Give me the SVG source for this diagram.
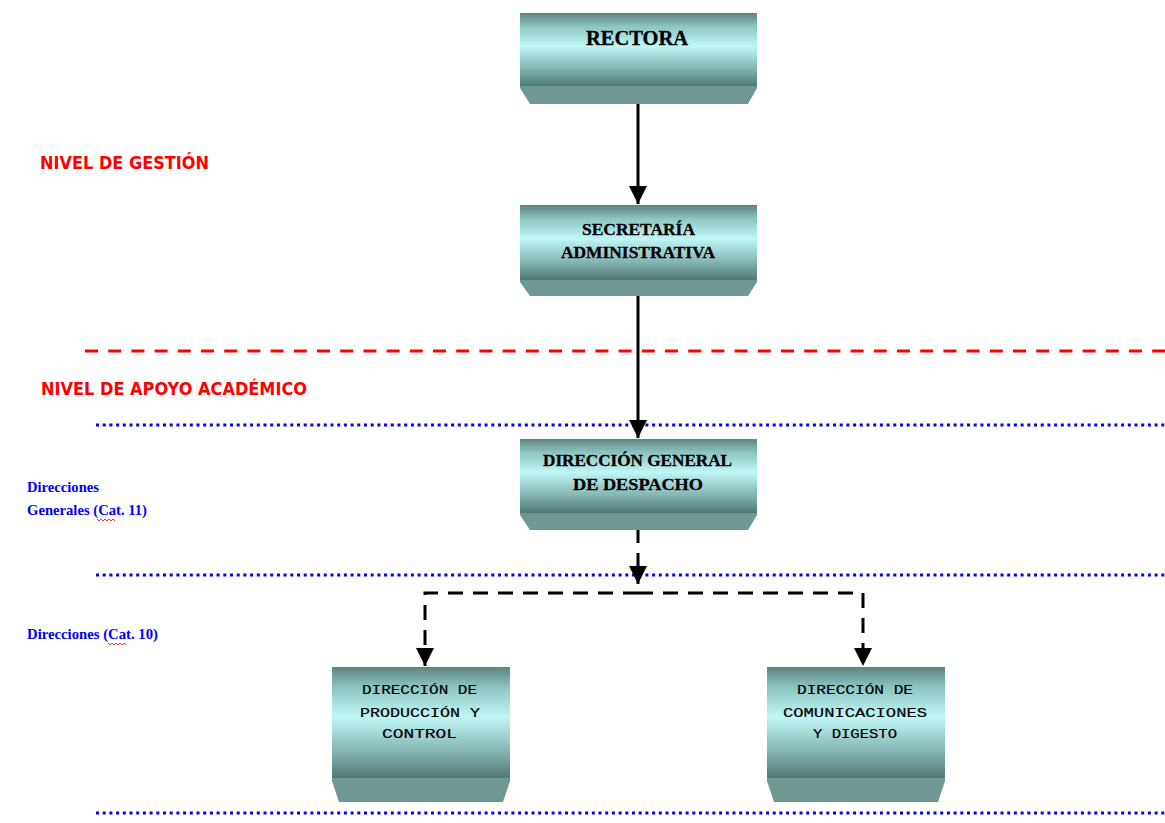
<svg xmlns="http://www.w3.org/2000/svg" width="1165" height="823" viewBox="0 0 1165 823">
  <style>
    .lvl { font-family: "DejaVu Sans", sans-serif; font-weight: bold; font-size: 17px; fill: #ff0000; }
    .cat { font-family: "Liberation Serif", serif; font-weight: bold; font-size: 15px; fill: #0000ff; }
    .ttl { font-family: "Liberation Serif", serif; font-weight: bold; fill: #000; stroke: #000; stroke-width: 0.3; }
    .mono { font-family: "Liberation Mono", monospace; font-size: 13.5px; fill: #000; stroke: #000; stroke-width: 0.2; }
    .bevel { fill: #6f9893; }
    .sep-red { stroke: #ff0000; stroke-width: 3; stroke-dasharray: 13 10.2; fill: none; }
    .sep-blue { stroke: #0000ff; stroke-width: 3; stroke-dasharray: 3 3.7; fill: none; }
    .solid { stroke: #000; stroke-width: 3; fill: none; }
    .dash { stroke: #000; stroke-width: 3; fill: none; stroke-dasharray: 15 10; }
    .squiggle { stroke: #ff0000; stroke-width: 0.8; fill: none; }
  </style>
  <defs>
    <linearGradient id="cyl" x1="0" y1="0" x2="0" y2="1">
      <stop offset="0" stop-color="#5b8480"/>
      <stop offset="0.18" stop-color="#8cc4c0"/>
      <stop offset="0.45" stop-color="#bff7f5"/>
      <stop offset="0.75" stop-color="#86b8b4"/>
      <stop offset="1" stop-color="#4f7874"/>
    </linearGradient>
    <marker id="head" viewBox="0 0 10 10" refX="10" refY="5" markerWidth="6" markerHeight="7.3" markerUnits="strokeWidth" orient="auto">
      <path d="M0,0 L10,5 L0,10 Z" fill="#000"/>
    </marker>
  </defs>

  <rect width="1165" height="823" fill="#ffffff"/>

  <!-- level separators -->
  <g id="separators">
    <line class="sep-red" x1="85" y1="351" x2="1165" y2="351"/>
    <line class="sep-blue" x1="96" y1="425" x2="1165" y2="425"/>
    <line class="sep-blue" x1="96" y1="575" x2="1165" y2="575"/>
    <line class="sep-blue" x1="96" y1="813" x2="1165" y2="813"/>
  </g>

  <!-- level labels -->
  <g id="labels">
    <text class="lvl" x="40" y="169" textLength="169" lengthAdjust="spacingAndGlyphs">NIVEL DE GESTIÓN</text>
    <text class="lvl" x="41" y="395" textLength="266" lengthAdjust="spacingAndGlyphs">NIVEL DE APOYO ACADÉMICO</text>
    <text class="cat" x="27" y="492" textLength="72" lengthAdjust="spacingAndGlyphs">Direcciones</text>
    <text class="cat" x="27" y="515" textLength="120" lengthAdjust="spacingAndGlyphs">Generales (Cat. 11)</text>
    <path class="squiggle" d="M97,519 l2,2 l2,-2 l2,2 l2,-2 l2,2 l2,-2 l2,2 l2,-2 l2,2"/>
    <text class="cat" x="27" y="639" textLength="131" lengthAdjust="spacingAndGlyphs">Direcciones (Cat. 10)</text>
    <path class="squiggle" d="M108,643 l2,2 l2,-2 l2,2 l2,-2 l2,2 l2,-2 l2,2 l2,-2 l2,2"/>
  </g>

  <!-- connectors -->
  <g id="connectors">
    <line class="solid" x1="638" y1="104" x2="638" y2="204" marker-end="url(#head)"/>
    <line class="solid" x1="638" y1="296" x2="638" y2="438" marker-end="url(#head)"/>
    <line class="dash" x1="638" y1="528" x2="638" y2="584" marker-end="url(#head)"/>
    <path class="dash" d="M638,593 H425 V666" marker-end="url(#head)"/>
    <path class="dash" d="M638,593 H863 V666" marker-end="url(#head)"/>
  </g>

  <!-- nodes -->
  <g id="rectora">
    <path class="bevel" d="M520,85 H757 V88 L748,104 H530 L520,88 Z"/>
    <rect x="520" y="13" width="237" height="73" fill="url(#cyl)"/>
    <text class="ttl" x="586" y="45" font-size="20" textLength="102" lengthAdjust="spacingAndGlyphs">RECTORA</text>
  </g>

  <g id="secretaria">
    <path class="bevel" d="M520,279 H757 V282 L748,296 H530 L520,282 Z"/>
    <rect x="520" y="205" width="237" height="75" fill="url(#cyl)"/>
    <text class="ttl" x="582" y="235" font-size="17" textLength="113" lengthAdjust="spacingAndGlyphs">SECRETARÍA</text>
    <text class="ttl" x="561" y="258" font-size="17" textLength="154" lengthAdjust="spacingAndGlyphs">ADMINISTRATIVA</text>
  </g>

  <g id="direccion-general">
    <path class="bevel" d="M520,512 H757 V515 L748,530 H530 L520,515 Z"/>
    <rect x="520" y="439" width="237" height="74" fill="url(#cyl)"/>
    <text class="ttl" x="543" y="466" font-size="16.5" textLength="189" lengthAdjust="spacingAndGlyphs">DIRECCIÓN GENERAL</text>
    <text class="ttl" x="573" y="490" font-size="16.5" textLength="130" lengthAdjust="spacingAndGlyphs">DE  DESPACHO</text>
  </g>

  <g id="produccion">
    <path class="bevel" d="M332,777 H510 V781 L503,802 H339 L332,781 Z"/>
    <rect x="332" y="667" width="178" height="111" fill="url(#cyl)"/>
    <text class="mono" x="362" y="694" textLength="115" lengthAdjust="spacingAndGlyphs">DIRECCIÓN DE</text>
    <text class="mono" x="360" y="717" textLength="120" lengthAdjust="spacingAndGlyphs">PRODUCCIÓN Y</text>
    <text class="mono" x="382" y="738" textLength="75" lengthAdjust="spacingAndGlyphs">CONTROL</text>
  </g>

  <g id="comunicaciones">
    <path class="bevel" d="M767,777 H945 V781 L938,802 H774 L767,781 Z"/>
    <rect x="767" y="667" width="178" height="111" fill="url(#cyl)"/>
    <text class="mono" x="797" y="694" textLength="116" lengthAdjust="spacingAndGlyphs">DIRECCIÓN DE</text>
    <text class="mono" x="783" y="717" textLength="144" lengthAdjust="spacingAndGlyphs">COMUNICACIONES</text>
    <text class="mono" x="813" y="738" textLength="84" lengthAdjust="spacingAndGlyphs">Y DIGESTO</text>
  </g>
</svg>
